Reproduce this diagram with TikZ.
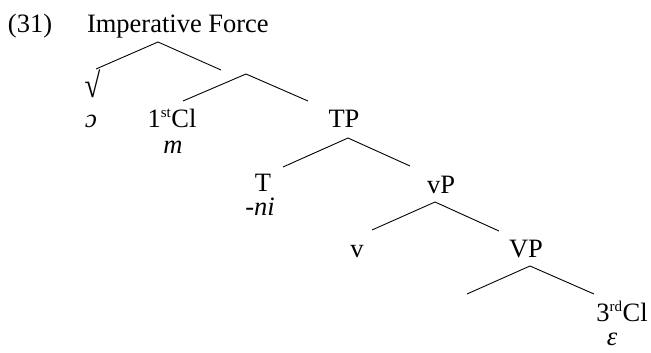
\documentclass[tikz,border=0pt]{standalone}
\usepackage{fontspec}
\usepackage{graphicx}
\setmainfont{Liberation Serif}
\begin{document}
\begin{tikzpicture}[x=1pt,y=-1pt,
  lbl/.style={inner sep=0pt,outer sep=0pt,anchor=base,font=\fontsize{26.5}{30}\selectfont},
  branch/.style={line width=0.9pt,black}]
\useasboundingbox (0,0) rectangle (651,353);
% labels
\node[lbl,anchor=base west] (num) at (8,33) {(31)};
\node[lbl,anchor=base west] (force) at (87,33) {Imperative Force};
\node[lbl] (root) at (92.5,97) {\scalebox{1.15}[1.4]{\fontsize{25}{25}\selectfont √}};
\node[lbl] (rootf) at (91,128) {\itshape ɔ};
\node[lbl] (cl1) at (172,127) {1\textsuperscript{\fontsize{15}{15}\selectfont st}Cl};
\node[lbl] (cl1f) at (173,153) {\itshape m};
\node[lbl] (tp) at (344,128) {TP};
\node[lbl] (t) at (263,191) {T};
\node[lbl] (tf) at (260,215) {\itshape -ni};
\node[lbl] (vpsmall) at (441,193) {vP};
\node[lbl] (v) at (357,257) {v};
\node[lbl] (vpbig) at (526,257) {VP};
\node[lbl] (cl3) at (622,321) {3\textsuperscript{\fontsize{15}{15}\selectfont rd}Cl};
\node[lbl] (cl3f) at (612,345) {\itshape ε};
% branch points
\coordinate (a0) at (158,42);
\coordinate (a0l) at (96,69);
\coordinate (a0r) at (221,70);
\coordinate (a1) at (246,74);
\coordinate (a1l) at (183,101);
\coordinate (a1r) at (308,101);
\coordinate (a2) at (348,138);
\coordinate (a2l) at (283,167);
\coordinate (a2r) at (410,166);
\coordinate (a3) at (435,202);
\coordinate (a3l) at (372,230);
\coordinate (a3r) at (499,231);
\coordinate (a4) at (530,266);
\coordinate (a4l) at (467,294);
\coordinate (a4r) at (594,294);
\draw[branch] (a0l) -- (a0) -- (a0r);
\draw[branch] (a1l) -- (a1) -- (a1r);
\draw[branch] (a2l) -- (a2) -- (a2r);
\draw[branch] (a3l) -- (a3) -- (a3r);
\draw[branch] (a4l) -- (a4) -- (a4r);
\end{tikzpicture}
\end{document}
